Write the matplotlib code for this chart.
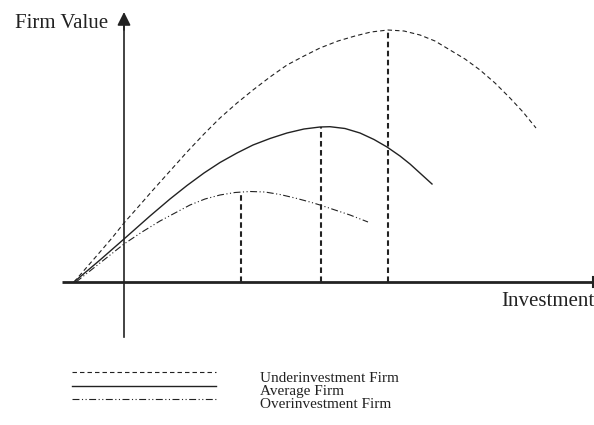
import matplotlib
matplotlib.use("Agg")
import matplotlib.pyplot as plt

plt.rcParams["font.family"] = ["Liberation Serif", "DejaVu Serif"]
plt.rcParams["lines.scale_dashes"] = False

# curve points (investment, firm value), origin where the axes cross
under_x = [-50, -37, -24, -12, 0, 15, 29, 46, 63, 80, 96, 113, 129, 146, 163, 180,
           196, 214, 231, 247, 264, 280, 296, 311, 326, 341, 356, 371, 386, 399, 412]
under_y = [0, 15, 30, 44, 59, 76, 92, 111, 130, 148, 164, 179, 192, 205, 217, 226,
           234, 241, 246, 250, 252, 251, 247, 241, 232, 223, 212, 199, 184, 170, 154]

avg_x = [-50, -24, 0, 26, 46, 63, 80, 96, 113, 129, 146, 163, 180, 196, 206,
         221, 236, 250, 263, 276, 286, 297, 308]
avg_y = [0, 22, 43, 66, 83, 96.5, 109, 119.5, 129, 137, 143.5, 149, 153, 155, 155.3,
         153.5, 149, 142.5, 135, 126, 118, 108, 98]

over_x = [-48, -24, 0, 18, 36, 51, 66, 81, 96, 111, 126, 141, 156, 171, 186, 196,
          211, 226, 244]
over_y = [0, 19, 38, 50, 61, 69, 77, 83, 87, 89.5, 90.5, 90, 87.5, 84, 80, 77,
          72, 67, 60]

# optimal investment of each firm type (vertical markers)
peak_x = [117, 197, 264]
peak_y = [90, 155, 252]

labels = ["Underinvestment Firm", "Average Firm", "Overinvestment Firm"]

fig = plt.figure(figsize=(5.94, 4.25), dpi=100)
ax = fig.add_axes([0, 0, 1, 1])
ax.set_xlim(-124, 470)
ax.set_ylim(-143, 282)
ax.axis("off")

ink = "#222222"
under_style = dict(color=ink, lw=0.8, dashes=(3.2, 2.2))
avg_style = dict(color=ink, lw=1.0)
over_style = dict(color=ink, lw=0.8, dashes=(5, 1.8, 0.8, 1.8, 0.8, 1.8))

ax.plot(under_x, under_y, **under_style)
ax.plot(avg_x, avg_y, **avg_style)
ax.plot(over_x, over_y, **over_style)

for px, py in zip(peak_x, peak_y):
    ax.plot([px, px], [0, py], color=ink, lw=1.5, dashes=(4, 2.5))

# axes
ax.plot([-62, 469], [0, 0], color=ink, lw=2.0, solid_capstyle="butt")
ax.plot([469, 469], [-5, 5], color=ink, lw=1.5)
ax.plot([0, 0], [-55, 256], color=ink, lw=1.2)
ax.annotate("", xy=(0, 270), xytext=(0, 252),
            arrowprops=dict(arrowstyle="-|>", color=ink, lw=1.2,
                            mutation_scale=20, shrinkA=0, shrinkB=0))

ax.text(-16, 259, "Firm Value", ha="right", va="center", fontsize=15, color=ink)
ax.text(470, -19, "Investment", ha="right", va="center", fontsize=15, color=ink)

# legend
leg_y = [-96, -109.5, -123]
styles = [under_style, avg_style, over_style]
for ly, lab, st in zip(leg_y, labels, styles):
    ax.plot([-52, 92], [ly + 6, ly + 6], **st)
    ax.text(136, ly, lab, ha="left", va="center", fontsize=11, color=ink)

fig.savefig("out.png", dpi=100)
